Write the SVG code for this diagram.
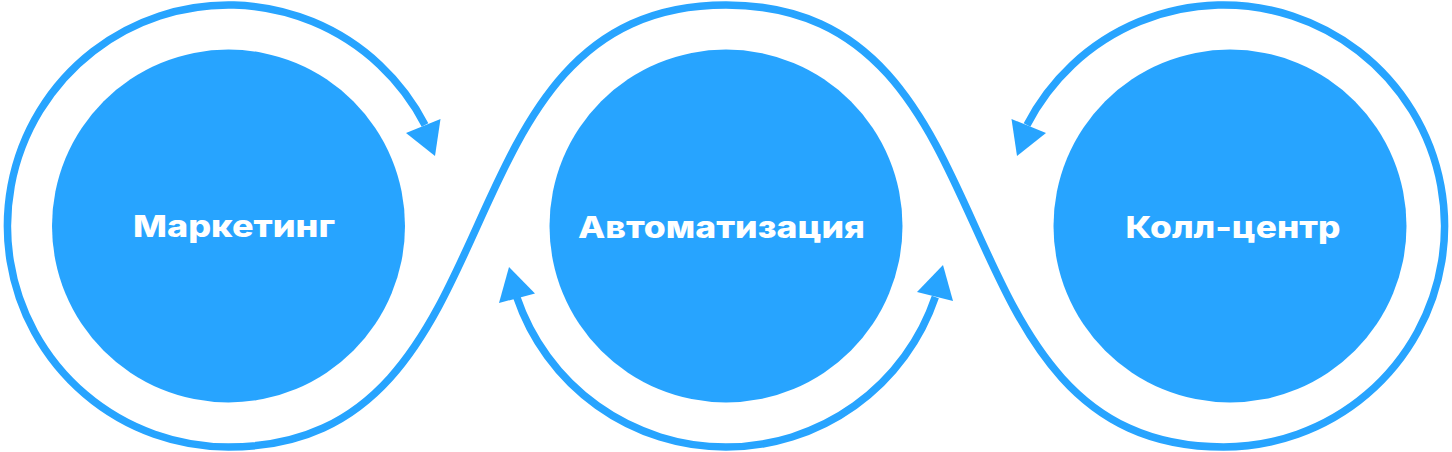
<svg xmlns="http://www.w3.org/2000/svg" width="1452" height="452" viewBox="0 0 1452 452">
<style>
.node{fill:#27A4FF}
.lbl{fill:#ffffff;font-family:"Inter","Open Sans","DejaVu Sans",sans-serif;font-weight:800;font-size:30px;text-anchor:middle}
.line{fill:none;stroke:#27A4FF;stroke-width:7.5}
.head{fill:#27A4FF}
</style>
<rect width="1452" height="452" fill="#ffffff"/>
<g id="connectors">
<path class="line" d="M425 125 A221 221 0 1 0 228.5 447 C526.5 447 428 5 726 5 C1024 5 925.5 447 1223.5 447 A221 221 0 1 0 1027 125"/>
<path class="line" d="M516.7 297 A221 221 0 0 0 935.3 297"/>
<polygon class="head" points="406,133 440.5,119 435,156"/>
<polygon class="head" points="1046,133 1011.5,119 1017,156"/>
<polygon class="head" points="499,303 535,293.5 509,267"/>
<polygon class="head" points="953,301 917,292 943,265"/>
</g>
<g id="node-marketing">
<circle class="node" cx="228.5" cy="226" r="176.5"/>
<text class="lbl" x="234" y="236.5" textLength="202" lengthAdjust="spacingAndGlyphs">Маркетинг</text>
</g>
<g id="node-automation">
<circle class="node" cx="726" cy="226" r="176.5"/>
<text class="lbl" x="721.5" y="237.5" textLength="287" lengthAdjust="spacingAndGlyphs">Автоматизация</text>
</g>
<g id="node-callcenter">
<circle class="node" cx="1230" cy="226" r="176.5"/>
<text class="lbl" x="1233" y="237.5" textLength="215" lengthAdjust="spacingAndGlyphs">Колл-центр</text>
</g>
</svg>
